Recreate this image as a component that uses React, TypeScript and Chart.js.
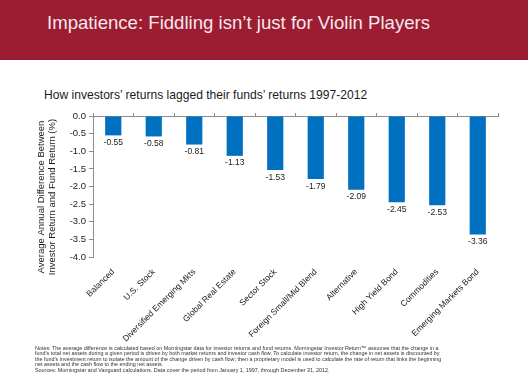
import React, { useEffect, useRef } from "react";
import { Chart, registerables } from "chart.js";

Chart.register(...registerables);

const TITLE = "Impatience: Fiddling isn\u2019t just for Violin Players";
const SUBTITLE = "How investors\u2019 returns lagged their funds\u2019 returns 1997-2012";
const Y_TITLE_LINES = ["Average Annual Difference Between", "Investor Return and Fund Return (%)"];

const categories = [
  "Balanced",
  "U.S. Stock",
  "Diversified Emerging Mkts",
  "Global Real Estate",
  "Sector Stock",
  "Foreign Small/Mid Blend",
  "Alternative",
  "High Yield Bond",
  "Commodities",
  "Emerging Markets Bond",
];
const values = [-0.55, -0.58, -0.81, -1.13, -1.53, -1.79, -2.09, -2.45, -2.53, -3.36];
const yMin = -4.0;
const yMax = 0.0;
const yStep = 0.5;

const NOTE_LINES = [
  "Notes: The average difference is calculated based on Morningstar data for investor returns and fund returns. Morningstar Investor Return\u2122 assumes that the change in a",
  "fund\u2019s total net assets during a given period is driven by both market returns and investor cash flow. To calculate investor return, the change in net assets is discounted by",
  "the fund\u2019s investment return to isolate the amount of the change driven by cash flow; then a proprietary model is used to calculate the rate of return that links the beginning",
  "net assets and the cash flow to the ending net assets.",
];
const SOURCE_LINE =
  "Sources: Morningstar and Vanguard calculations. Data cover the period from January 1, 1997, through December 31, 2012.";

const FONT = "'Liberation Sans', Arial, sans-serif";

const dataLabelPlugin = {
  id: "dataLabels",
  afterDatasetsDraw(chart: any) {
    const ctx = chart.ctx;
    const meta = chart.getDatasetMeta(0);
    ctx.save();
    ctx.font = `8.5px ${FONT}`;
    ctx.fillStyle = "#1a1a1a";
    ctx.textAlign = "center";
    ctx.textBaseline = "top";
    meta.data.forEach((bar: any, i: number) => {
      const v = chart.data.datasets[0].data[i] as number;
      ctx.fillText(v.toFixed(2), bar.x, bar.y + 3);
    });
    ctx.restore();
  },
};

const yTitlePlugin = {
  id: "yTitle",
  afterDraw(chart: any) {
    const ctx = chart.ctx;
    ctx.save();
    ctx.font = `9.5px ${FONT}`;
    ctx.fillStyle = "#1a1a1a";
    ctx.textAlign = "center";
    ctx.textBaseline = "middle";
    ctx.translate(47, 197);
    ctx.rotate(-Math.PI / 2);
    ctx.fillText(Y_TITLE_LINES[0], 0, -5.5);
    ctx.fillText(Y_TITLE_LINES[1], 0, 5.5);
    ctx.restore();
  },
};

export default function App() {
  const canvasRef = useRef<HTMLCanvasElement | null>(null);

  useEffect(() => {
    document.body.style.margin = "0";
    const canvas = canvasRef.current;
    if (!canvas) return;
    const chart = new Chart(canvas, {
      type: "bar",
      data: {
        labels: categories,
        datasets: [
          {
            data: values,
            backgroundColor: "#0070C0",
            borderWidth: 0,
            barPercentage: 0.4,
            categoryPercentage: 1.0,
            xAxisID: "x",
            yAxisID: "y",
          },
        ],
      },
      options: {
        animation: false,
        responsive: false,
        maintainAspectRatio: false,
        devicePixelRatio: 1,
        layout: { padding: { left: 0, top: 111, right: 30, bottom: 0 } },
        plugins: {
          legend: { display: false },
          tooltip: { enabled: false },
          title: { display: false },
        },
        scales: {
          x: {
            type: "category",
            position: "bottom",
            grid: { display: false },
            border: { display: false },
            ticks: {
              minRotation: 45,
              maxRotation: 45,
              autoSkip: false,
              padding: 2,
              color: "#1a1a1a",
              font: { family: FONT, size: 8.5 },
            },
            afterFit(s: any) {
              s.height = 126;
            },
          },
          xTop: {
            type: "category",
            position: "top",
            offset: true,
            grid: {
              offset: true,
              drawOnChartArea: false,
              drawTicks: true,
              tickLength: 3,
              color: "#8c8c8c",
            },
            border: { display: true, color: "#8c8c8c", width: 1 },
            ticks: { display: false },
            afterFit(s: any) {
              s.height = 5;
            },
          },
          y: {
            type: "linear",
            min: yMin,
            max: yMax,
            grid: {
              drawOnChartArea: false,
              drawTicks: true,
              tickLength: 4,
              color: "#8c8c8c",
            },
            border: { display: true, color: "#8c8c8c", width: 1 },
            ticks: {
              stepSize: yStep,
              padding: 3,
              color: "#1a1a1a",
              font: { family: FONT, size: 9.5 },
              callback: (v: any) => Number(v).toFixed(1),
            },
            afterFit(s: any) {
              s.width = 93;
            },
          },
        },
      } as any,
      plugins: [dataLabelPlugin, yTitlePlugin],
    });
    return () => chart.destroy();
  }, []);

  return (
    <div
      style={{
        position: "absolute",
        left: 0,
        top: 0,
        width: 528,
        height: 383,
        background: "#ffffff",
        overflow: "hidden",
        fontFamily: FONT,
      }}
    >
      <div
        style={{
          position: "absolute",
          left: 0,
          top: 0,
          width: 528,
          height: 60,
          background: "#9c1c32",
        }}
      />
      <div
        style={{
          position: "absolute",
          left: 47,
          top: 11,
          fontSize: 18.6,
          lineHeight: "24px",
          color: "#f6e8ec",
          whiteSpace: "nowrap",
        }}
      >
        {TITLE}
      </div>
      <div
        style={{
          position: "absolute",
          left: 44,
          top: 88,
          fontSize: 12.1,
          lineHeight: "14px",
          color: "#1a1a1a",
          whiteSpace: "nowrap",
        }}
      >
        {SUBTITLE}
      </div>
      <canvas
        ref={canvasRef}
        width={528}
        height={383}
        style={{ position: "absolute", left: 0, top: 0, width: 528, height: 383 }}
      />
      <div
        style={{
          position: "absolute",
          left: 35,
          top: 346,
          fontSize: 5.4,
          lineHeight: "5.3px",
          color: "#333333",
          whiteSpace: "nowrap",
        }}
      >
        {NOTE_LINES.map((l, i) => (
          <div key={i}>{l}</div>
        ))}
        <div style={{ marginTop: 0.6 }}>{SOURCE_LINE}</div>
      </div>
    </div>
  );
}
